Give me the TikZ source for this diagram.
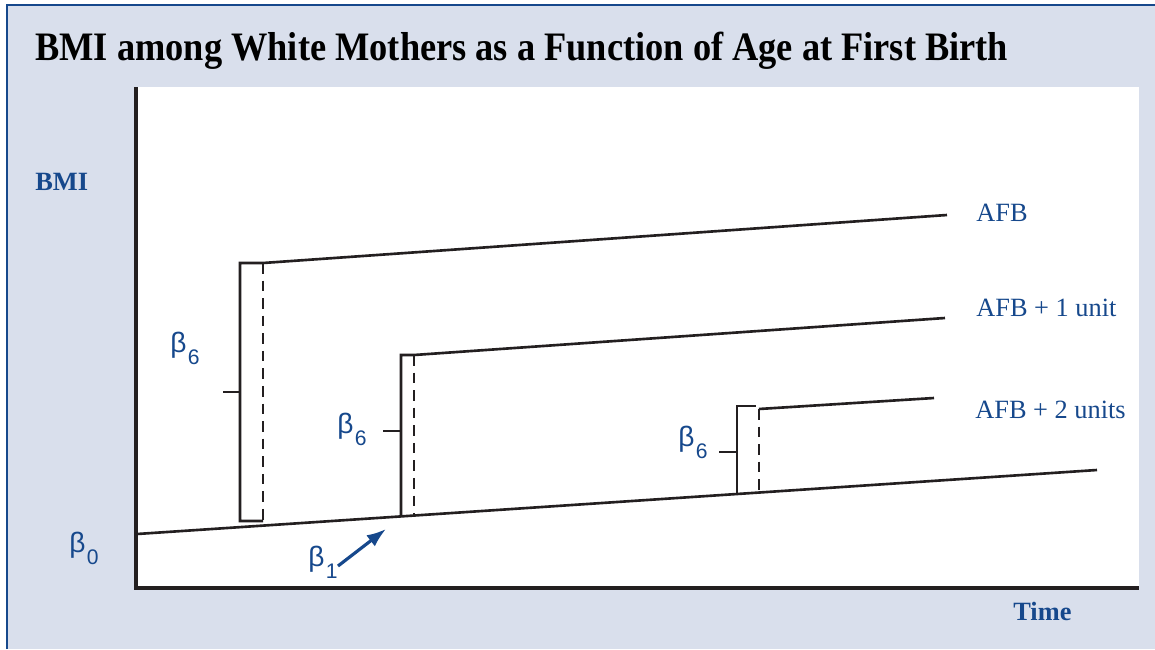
\documentclass[tikz,border=0pt]{standalone}
\usepackage{fontspec}
\usetikzlibrary{arrows.meta}
\setmainfont{Liberation Serif}
\newfontfamily\betafont{Liberation Sans}
\definecolor{panelbg}{RGB}{217,223,236}
\definecolor{darkblue}{RGB}{22,72,140}
\definecolor{inkblack}{RGB}{35,31,32}
% beta with a lowered index
\newcommand{\bsub}[1]{{\betafont β\kern0.8pt\raisebox{-0.8ex}{\fontsize{12}{12}\selectfont #1}}}
\tikzset{
    curve/.style={draw=inkblack, line width=1.5pt},
    gap/.style={draw=inkblack, line width=1.5pt, dash pattern=on 6pt off 4pt},
    axis/.style={draw=inkblack, line width=2.8pt},
    coef/.style={text=darkblue, font=\fontsize{16}{16}\selectfont, inner sep=0pt},
    tag/.style={text=darkblue, font=\fontsize{15}{15}\selectfont, inner sep=0pt, anchor=west},
    head/.style={font=\bfseries\fontsize{15}{15}\selectfont, inner sep=0pt},
}
\begin{document}
\begin{tikzpicture}[x=0.02cm, y=-0.02cm]
    \useasboundingbox (0,0) rectangle (1155,649);
    % panel
    \fill[panelbg] (7,5) rectangle (1155,649);
    \draw[darkblue, line width=1.4pt] (7,649) -- (7,5) -- (1155,5);
    \fill[white] (137,87) rectangle (1139,588);
    \node[font=\bfseries\fontsize{23}{23}\selectfont, anchor=base west, inner sep=0pt] (title) at (35,60)
        {\scalebox{0.9}[1]{BMI among White Mothers as a Function of Age at First Birth}};
    % axes
    \coordinate (top) at (136,87);
    \coordinate (origin) at (136,588);
    \coordinate (right) at (1139,588);
    \draw[axis] (top) -- (origin) -- (right);
    \node[head, text=darkblue, anchor=base west] (ylab) at (35,190) {BMI};
    \node[head, text=darkblue, anchor=base west] (xlab) at (1013,620) {Time};
    % reference line
    \coordinate (b0) at (137,534);
    \coordinate (bend) at (1097,470);
    \draw[curve] (b0) -- (bend);
    % AFB
    \coordinate (a0) at (240,521);
    \coordinate (a1) at (240,263);
    \coordinate (a2) at (263,263);
    \coordinate (a3) at (263,525);
    \coordinate (a4) at (263,521);
    \coordinate (aend) at (947,215);
    \draw[curve] (a4) -- (a0) -- (a1) -- (a2) -- (aend);
    \draw[gap] (a2) -- (a3);
    \draw[curve] (240,392) -- (223,392);
    % AFB + 1 unit
    \coordinate (c0) at (401,516);
    \coordinate (c1) at (401,355);
    \coordinate (c2) at (414,355);
    \coordinate (c3) at (414,516);
    \coordinate (cend) at (945,318);
    \draw[curve] (c0) -- (c1) -- (c2) -- (cend);
    \draw[gap] (c2) -- (c3);
    \draw[curve] (401,431) -- (383,431);
    % AFB + 2 units
    \coordinate (d0) at (737,493);
    \coordinate (d1) at (737,406);
    \coordinate (d2) at (756,406);
    \coordinate (d3) at (759,409);
    \coordinate (d4) at (759,493);
    \coordinate (dend) at (934,398);
    \draw[curve] (d0) -- (d1) -- (d2);
    \draw[curve] (d3) -- (dend);
    \draw[gap] (d3) -- (d4);
    \draw[curve] (737,452) -- (719,452);
    % labels
    \node[tag] (afb0) at (976,213) {AFB};
    \node[tag] (afb1) at (976,308) {AFB + 1 unit};
    \node[tag] (afb2) at (975,410) {AFB + 2 units};
    \node[coef] (s1) at (185,348) {\bsub{6}};
    \node[coef] (s2) at (352,429) {\bsub{6}};
    \node[coef] (s3) at (693,442) {\bsub{6}};
    \node[coef] (int) at (84,548) {\bsub{0}};
    \node[coef] (slope) at (323,562) {\bsub{1}};
    \coordinate (tail) at (338,566);
    \coordinate (tip) at (386,529);
    \draw[darkblue, line width=1.8pt, -{Latex[length=11pt,width=8pt]}] (tail) -- (tip);
\end{tikzpicture}
\end{document}
